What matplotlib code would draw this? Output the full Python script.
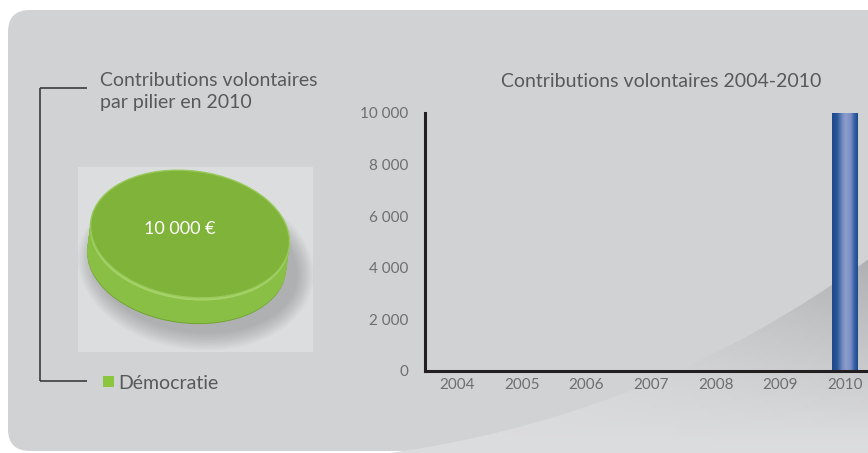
import numpy as np
import matplotlib
matplotlib.use("Agg")
from matplotlib import pyplot as plt
from matplotlib.patches import FancyBboxPatch, Polygon, Rectangle, Ellipse
from matplotlib.colors import LinearSegmentedColormap
from matplotlib.transforms import Affine2D
from matplotlib.ticker import FuncFormatter

plt.rcParams['font.family'] = ['Lato', 'DejaVu Sans']

# Data
years = [2004, 2005, 2006, 2007, 2008, 2009, 2010]
contributions = [0, 0, 0, 0, 0, 0, 10000]
piliers = ['Démocratie']
pilier_values = [10000]
yticks = [0, 2000, 4000, 6000, 8000, 10000]

W, H = 868, 453
fig = plt.figure(figsize=(W / 100, H / 100), dpi=100)
fig.patch.set_facecolor('white')

# Background panel, in pixel units
bg = fig.add_axes([0, 0, 1, 1], zorder=0)
bg.set_xlim(0, W)
bg.set_ylim(H, 0)
bg.axis('off')
panel = FancyBboxPatch((8, 10), 920, 441, boxstyle="round,pad=0,rounding_size=22",
                       fc='#d1d2d4', ec='none')
bg.add_patch(panel)

# swoosh in the lower right
t = np.linspace(0, 1, 60)
p0, p1, p2 = np.array([375, 455]), np.array([650, 420]), np.array([870, 258])
curve = ((1 - t)**2)[:, None] * p0 + (2 * (1 - t) * t)[:, None] * p1 + (t**2)[:, None] * p2
swoosh = Polygon(np.vstack([curve, [[870, 455]]]), closed=True, fc='none', ec='none')
bg.add_patch(swoosh)
gx, gy = np.meshgrid(np.linspace(0, W, 200), np.linspace(0, H, 120))
dark = np.clip((gx - 500) / 368, 0, 1) ** 0.8 * np.clip(1 - (gy - 262) / 180, 0, 1)
light_c, dark_c = np.array([0.86, 0.863, 0.871]), np.array([0.69, 0.695, 0.705])
grad = light_c + dark[..., None] * (dark_c - light_c)
im = bg.imshow(grad, extent=[0, W, H, 0], aspect='auto', zorder=1)
im.set_clip_path(swoosh)
bg.set_xlim(0, W)
bg.set_ylim(H, 0)

# Bracket around the left block
line_kw = dict(color='#3c3c3e', lw=1.2, solid_capstyle='butt')
bg.plot([40, 87], [88, 88], **line_kw)
bg.plot([40, 40], [88, 381], **line_kw)
bg.plot([40, 87], [381, 381], **line_kw)

txt_kw = dict(color='#58595b', fontsize=14)
bg.text(100, 86, 'Contributions volontaires', va='baseline', ha='left', **txt_kw)
bg.text(100, 108, 'par pilier en 2010', va='baseline', ha='left', **txt_kw)
bg.text(661, 87, 'Contributions volontaires 2004-2010', va='baseline', ha='center', **txt_kw)

# Box behind the coin
bg.add_patch(Rectangle((78, 167), 235, 185, fc='#dcdddf', ec='none', zorder=2))

# Legend
bg.add_patch(Rectangle((103, 376), 11, 11, fc='#8cc63f', ec='none', zorder=3))
bg.text(118, 389, piliers[0], va='baseline', ha='left', **txt_kw)

# 3D coin pie: top face from ax.pie, thickness from stacked copies
pax = fig.add_axes([60 / W, (H - 350) / H, 260 / W, 200 / H], zorder=2)
pax.axis('off')
rot = Affine2D().rotate_deg_around(190, H - 234, -7.5)
thick = 0.42
# soft shadow
for k in range(10):
    e = Ellipse((0.1, -thick - 0.08), 2.05 + 0.035 * k, 2.1 + 0.06 * k,
                fc='#5e5f61', ec='none', alpha=0.04)
    e.set_transform(pax.transData + rot)
    pax.add_patch(e)
n_side = 30
for k in range(n_side):
    dy = -thick * (1 - k / (n_side - 1))
    if k == 0:
        shade = '#6ea32d'
    elif k < n_side - 4:
        shade = '#89bf45'
    else:
        shade = '#a6d26c'
    wedges, _ = pax.pie(pilier_values, colors=[shade], center=(0, dy), radius=1,
                        startangle=90, wedgeprops=dict(ec='none'))
    for w in wedges:
        w.set_transform(pax.transData + rot)
wedges, _ = pax.pie(pilier_values, colors=['#80b33a'], radius=1, startangle=90,
                    wedgeprops=dict(ec='#98c95a', lw=1.0))
for w in wedges:
    w.set_transform(pax.transData + rot)
pax.set_aspect('auto')
pax.set_xlim(-1.3, 1.3)
pax.set_ylim(-1.84, 1.333)
pax.text(-0.1, 0.08, f"{pilier_values[0]:,.0f} €".replace(',', ' '), color='white',
         fontsize=13, ha='center', va='center')

# Bar chart
ax = fig.add_axes([425 / W, (H - 371) / H, 1 - 425 / W, (371 - 113) / H], zorder=3)
ax.patch.set_alpha(0)
bars = ax.bar(years, contributions, width=0.4, color='#2a5396', zorder=2)
bar_cmap = LinearSegmentedColormap.from_list('barblue', [
    (0.0, '#1c488c'), (0.2, '#2a5798'), (0.42, '#7d90c4'), (0.55, '#8e9dcc'),
    (0.72, '#7a8fc5'), (0.86, '#3a62a4'), (1.0, '#1b4a90')])
for b in bars:
    if b.get_height() > 0:
        x0, w, h = b.get_x(), b.get_width(), b.get_height()
        g = ax.imshow(np.linspace(0, 1, 128)[None, :], cmap=bar_cmap, aspect='auto',
                      extent=[x0, x0 + w, 0, h], zorder=3)
        g.set_clip_path(b)
ax.set_xlim(2003.5, 2010.36)
ax.set_ylim(0, 10000)
ax.set_xticks(years)
ax.set_yticks(yticks)
ax.yaxis.set_major_formatter(FuncFormatter(lambda v, p: f"{v:,.0f}".replace(',', ' ')))
ax.tick_params(length=0, labelsize=11, labelcolor='#6d6e71')
ax.tick_params(axis='y', pad=12)
ax.tick_params(axis='x', pad=5)
for s in ['top', 'right']:
    ax.spines[s].set_visible(False)
for s in ['left', 'bottom']:
    ax.spines[s].set_color('#231f20')
    ax.spines[s].set_linewidth(2.2)
    ax.spines[s].set_zorder(5)

fig.savefig('out.png', dpi=100)
